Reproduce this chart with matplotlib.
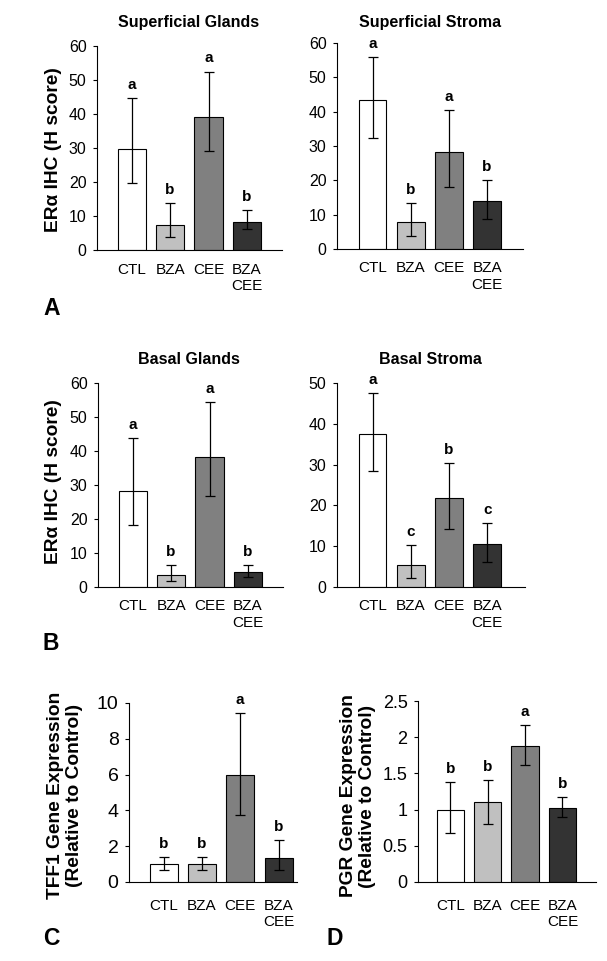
import matplotlib
matplotlib.use("Agg")
import matplotlib.pyplot as plt
from matplotlib.ticker import FuncFormatter

plt.rcParams['font.family'] = ['Liberation Sans', 'DejaVu Sans']

# ---------------------------------------------------------------------------
# Data
# ---------------------------------------------------------------------------
categories = ["CTL", "BZA", "CEE", "BZA\nCEE"]
bar_colors = ["#ffffff", "#c0c0c0", "#808080", "#333333"]

# Superficial glands
sg_mean = [29.6, 7.3, 39.1, 8.1]
sg_hi = [44.8, 13.7, 52.5, 11.7]
sg_lo = [19.8, 3.9, 29.2, 6.1]
sg_letters = ["a", "b", "a", "b"]

# Superficial stroma
ss_mean = [43.5, 7.8, 28.3, 14.0]
ss_hi = [55.8, 13.3, 40.5, 20.2]
ss_lo = [32.4, 3.7, 18.0, 8.8]
ss_letters = ["a", "b", "a", "b"]

# Basal glands
bg_mean = [28.3, 3.6, 38.3, 4.4]
bg_hi = [43.9, 6.5, 54.5, 6.5]
bg_lo = [18.3, 1.7, 26.9, 2.9]
bg_letters = ["a", "b", "a", "b"]

# Basal stroma
bs_mean = [37.5, 5.5, 21.7, 10.5]
bs_hi = [47.5, 10.2, 30.3, 15.8]
bs_lo = [28.4, 2.1, 14.3, 6.2]
bs_letters = ["a", "c", "b", "c"]

# TFF1 gene expression
tff1_mean = [1.0, 1.0, 6.0, 1.35]
tff1_hi = [1.41, 1.41, 9.44, 2.32]
tff1_lo = [0.69, 0.69, 3.75, 0.65]
tff1_letters = ["b", "b", "a", "b"]

# PGR gene expression
pgr_mean = [1.0, 1.10, 1.88, 1.02]
pgr_hi = [1.38, 1.415, 2.17, 1.17]
pgr_lo = [0.67, 0.80, 1.62, 0.90]
pgr_letters = ["b", "b", "a", "b"]

W, H = 607, 961
fig = plt.figure(figsize=(W / 100, H / 100), dpi=100)


def add_panel(left, right, top, bottom):
    return fig.add_axes([left / W, 1 - bottom / H, (right - left) / W, (bottom - top) / H])


def draw_bars(ax, mean, hi, lo, letters, ymax, ystep, xlim, ytick_size=11.5, xpad=9):
    x = list(range(len(categories)))
    ax.bar(x, mean, width=0.73, color=bar_colors, edgecolor="black", linewidth=0.8, zorder=2)
    yerr = [[m - l for m, l in zip(mean, lo)], [h - m for m, h in zip(mean, hi)]]
    ax.errorbar(x, mean, yerr=yerr, fmt="none", ecolor="black", elinewidth=0.9,
                capsize=3.8, capthick=0.9, zorder=3)
    for xi, h, lab in zip(x, hi, letters):
        ax.annotate(lab, (xi, h), xytext=(0, 6.5), textcoords="offset points",
                    ha="center", va="baseline", fontsize=11, fontweight="bold")
    ax.set_xlim(*xlim)
    ax.set_ylim(0, ymax)
    n = int(round(ymax / ystep))
    ax.set_yticks([i * ystep for i in range(n + 1)])
    ax.yaxis.set_major_formatter(FuncFormatter(lambda v, p: f"{v:g}"))
    ax.set_xticks(x)
    ax.set_xticklabels(categories, fontsize=11)
    ax.tick_params(axis="x", length=0, pad=xpad)
    ax.tick_params(axis="y", length=3, width=0.8, direction="out", labelsize=ytick_size, pad=4.5)
    for s in ["top", "right"]:
        ax.spines[s].set_visible(False)
    for s in ["left", "bottom"]:
        ax.spines[s].set_linewidth(0.8)


ax_a = add_panel(97, 282, 46, 250)
draw_bars(ax_a, sg_mean, sg_hi, sg_lo, sg_letters, 60, 10, (-0.9, 3.91))
ax_a2 = add_panel(337, 523, 43, 249)
draw_bars(ax_a2, ss_mean, ss_hi, ss_lo, ss_letters, 60, 10, (-0.93, 3.94))
ax_b = add_panel(98, 283, 383, 587)
draw_bars(ax_b, bg_mean, bg_hi, bg_lo, bg_letters, 60, 10, (-0.9, 3.91))
ax_b2 = add_panel(337, 525, 383, 587)
draw_bars(ax_b2, bs_mean, bs_hi, bs_lo, bs_letters, 50, 10, (-0.93, 3.99))
ax_c = add_panel(129, 297, 703, 882)
draw_bars(ax_c, tff1_mean, tff1_hi, tff1_lo, tff1_letters, 10, 2, (-0.9, 3.48),
          ytick_size=14, xpad=12)
ax_d = add_panel(418, 596, 701, 882)
draw_bars(ax_d, pgr_mean, pgr_hi, pgr_lo, pgr_letters, 2.5, 0.5, (-0.87, 3.9),
          ytick_size=13, xpad=12)


def fx(px):
    return px / W


def fy(py):
    return 1 - py / H


# panel titles
title_kw = dict(ha="center", va="center", fontsize=11.5, fontweight="bold")
fig.text(fx(189), fy(23), "Superficial Glands", **title_kw)
fig.text(fx(430), fy(23), "Superficial Stroma", **title_kw)
fig.text(fx(189), fy(359), "Basal Glands", **title_kw)
fig.text(fx(430), fy(359), "Basal Stroma", **title_kw)

# y labels
ylab_kw = dict(rotation=90, ha="center", va="center", multialignment="center",
               fontsize=13.8, fontweight="bold")
fig.text(fx(53), fy(150), "ERα IHC (H score)", **ylab_kw)
fig.text(fx(53), fy(482), "ERα IHC (H score)", **ylab_kw)
fig.text(fx(65), fy(795), "TFF1 Gene Expression\n(Relative to Control)", **ylab_kw)
fig.text(fx(358), fy(796), "PGR Gene Expression\n(Relative to Control)", **ylab_kw)

# panel letters
for lab, x0, y0 in [("A", 43, 315), ("B", 43, 650), ("C", 43, 945), ("D", 327, 945)]:
    fig.text(fx(x0), fy(y0), lab, ha="left", va="baseline", fontsize=16.5, fontweight="bold")

fig.savefig("out.png", dpi=100)
